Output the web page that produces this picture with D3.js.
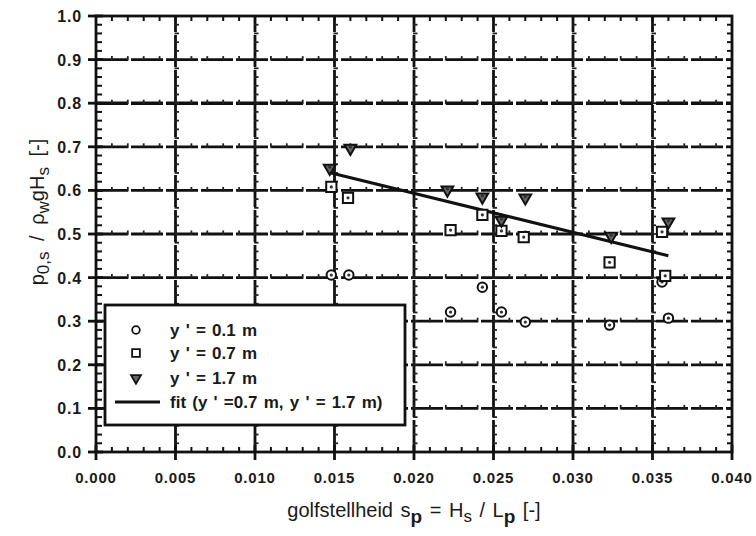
<!DOCTYPE html>
<html>
<head>
	<meta charset="utf-8">
	<title>Golfstellheid</title>
	<script src="https://cdnjs.cloudflare.com/ajax/libs/d3/7.8.5/d3.min.js"></script>
	<style type="text/css">
		body { margin: 0; background: #fff; }
		text { font-family: "Liberation Sans", Arial, sans-serif; fill: #1a1a1a; }
	</style>
</head>
<body>
	<script type="text/javascript">

		// y' = 0.1 m
		let circleX = [0.0148, 0.0159, 0.0223, 0.0243, 0.0255, 0.0270, 0.0323, 0.0356, 0.0360];
		let circleY = [0.406, 0.406, 0.321, 0.378, 0.321, 0.298, 0.291, 0.390, 0.307];
		// y' = 0.7 m
		let squareX = [0.0148, 0.01585, 0.0223, 0.0243, 0.0255, 0.0269, 0.0323, 0.0356, 0.0358];
		let squareY = [0.608, 0.583, 0.509, 0.544, 0.507, 0.493, 0.435, 0.505, 0.404];
		// y' = 1.7 m
		let triX = [0.0147, 0.0160, 0.0221, 0.0243, 0.0255, 0.0270, 0.0324, 0.0360];
		let triY = [0.651, 0.697, 0.601, 0.585, 0.532, 0.583, 0.495, 0.528];
		// fit line
		let fitX = [0.0148, 0.0360];
		let fitY = [0.640, 0.450];

		let xTicks = [0, 0.005, 0.010, 0.015, 0.020, 0.025, 0.030, 0.035, 0.040];
		let yTicks = [0, 0.1, 0.2, 0.3, 0.4, 0.5, 0.6, 0.7, 0.8, 0.9, 1.0];
		let legendLabels = ["y ' = 0.1 m", "y ' = 0.7 m", "y ' = 1.7 m", "fit (y ' =0.7 m, y ' = 1.7 m)"];

		const W = 756, H = 536;
		const m = {left: 96, right: 24, top: 16, bottom: 84};

		let svg = d3.select('body').append('svg')
			.attr('width', W)
			.attr('height', H);

		let x = d3.scaleLinear().domain([0, 0.04]).range([m.left, W - m.right]);
		let y = d3.scaleLinear().domain([0, 1]).range([H - m.bottom, m.top]);

		let minorX = d3.range(0, 0.0405, 0.001);
		let minorY = d3.range(0, 1.001, 0.02);

		// grid lines (dashed, bold)
		let grid = svg.append('g');
		grid.selectAll('.hg').data(yTicks.slice(1, -1)).enter().append('line')
			.attr('x1', x(0)).attr('x2', x(0.04))
			.attr('y1', d => y(d)).attr('y2', d => y(d))
			.attr('stroke', '#111')
			.attr('stroke-width', d => Math.abs(d - 0.8) < 1e-6 ? 3.4 : 2.8)
			.attr('stroke-dasharray', '32,3');
		grid.selectAll('.vg').data(xTicks.slice(1, -1)).enter().append('line')
			.attr('y1', y(0)).attr('y2', y(1))
			.attr('x1', d => x(d)).attr('x2', d => x(d))
			.attr('stroke', '#111')
			.attr('stroke-width', 2.8)
			.attr('stroke-dasharray', '32,3');

		// small ticks on grid lines
		yTicks.slice(1, -1).forEach(v => {
			grid.selectAll(null).data(minorX).enter().append('line')
				.attr('x1', d => x(d)).attr('x2', d => x(d))
				.attr('y1', y(v) - 3.5).attr('y2', y(v) + 1)
				.attr('stroke', '#222').attr('stroke-width', 1.8);
		});
		xTicks.slice(1, -1).forEach(v => {
			grid.selectAll(null).data(minorY).enter().append('line')
				.attr('y1', d => y(d)).attr('y2', d => y(d))
				.attr('x1', x(v) - 1).attr('x2', x(v) + 3.5)
				.attr('stroke', '#222').attr('stroke-width', 1.8);
		});

		// frame
		svg.append('rect')
			.attr('x', x(0)).attr('y', y(1))
			.attr('width', x(0.04) - x(0)).attr('height', y(0) - y(1))
			.attr('fill', 'none').attr('stroke', '#111').attr('stroke-width', 2.8);

		// axes ticks
		let ax = svg.append('g').attr('stroke', '#111');
		ax.selectAll('.mxb').data(minorX).enter().append('line')
			.attr('x1', d => x(d)).attr('x2', d => x(d))
			.attr('y1', y(0)).attr('y2', y(0) - 5).attr('stroke-width', 2);
		ax.selectAll('.mxt').data(minorX).enter().append('line')
			.attr('x1', d => x(d)).attr('x2', d => x(d))
			.attr('y1', y(1)).attr('y2', y(1) + 5).attr('stroke-width', 2);
		ax.selectAll('.Mx').data(xTicks).enter().append('line')
			.attr('x1', d => x(d)).attr('x2', d => x(d))
			.attr('y1', y(0) - 7).attr('y2', y(0) + 8).attr('stroke-width', 2.8);
		ax.selectAll('.myl').data(minorY).enter().append('line')
			.attr('y1', d => y(d)).attr('y2', d => y(d))
			.attr('x1', x(0)).attr('x2', x(0) + 6).attr('stroke-width', 2);
		ax.selectAll('.myr').data(minorY).enter().append('line')
			.attr('y1', d => y(d)).attr('y2', d => y(d))
			.attr('x1', x(0.04)).attr('x2', x(0.04) - 5).attr('stroke-width', 2);
		ax.selectAll('.My').data(yTicks).enter().append('line')
			.attr('y1', d => y(d)).attr('y2', d => y(d))
			.attr('x1', x(0) - 8).attr('x2', x(0) + 7).attr('stroke-width', 2.8);

		// tick labels
		svg.selectAll('.xl').data(xTicks).enter().append('text')
			.attr('x', d => x(d)).attr('y', y(0) + 31)
			.attr('text-anchor', 'middle')
			.attr('font-size', 15).attr('font-weight', 'bold')
			.attr('letter-spacing', 0.8)
			.text(d => d3.format('.3f')(d));
		svg.selectAll('.yl').data(yTicks).enter().append('text')
			.attr('x', x(0) - 14).attr('y', d => y(d) + 6)
			.attr('text-anchor', 'end')
			.attr('font-size', 16).attr('font-weight', 'bold')
			.attr('letter-spacing', 0.8)
			.text(d => d3.format('.1f')(d));

		// axis titles
		let xt = svg.append('text')
			.attr('x', 414).attr('y', 517)
			.attr('text-anchor', 'middle')
			.attr('font-size', 20)
			.attr('word-spacing', 2);
		xt.append('tspan').text('golfstellheid s');
		xt.append('tspan').attr('baseline-shift', '-30%').attr('font-size', 19).attr('font-weight', 'bold').text('p');
		xt.append('tspan').text(' = H');
		xt.append('tspan').attr('baseline-shift', '-30%').attr('font-size', 17).text('s');
		xt.append('tspan').text(' / L');
		xt.append('tspan').attr('baseline-shift', '-30%').attr('font-size', 19).attr('font-weight', 'bold').text('p');
		xt.append('tspan').text('  [-]');

		let yt = svg.append('text')
			.attr('transform', 'translate(44,' + 212 + ') rotate(-90)')
			.attr('text-anchor', 'middle')
			.attr('font-size', 20)
			.attr('word-spacing', 5);
		yt.append('tspan').text('p');
		yt.append('tspan').attr('baseline-shift', '-30%').attr('font-size', 17).text('0,s');
		yt.append('tspan').text(' / ρ');
		yt.append('tspan').attr('baseline-shift', '-30%').attr('font-size', 17).text('w');
		yt.append('tspan').text('gH');
		yt.append('tspan').attr('baseline-shift', '-30%').attr('font-size', 17).text('s');
		yt.append('tspan').text('  [-]');

		// fit line
		let fitData = fitX.map((d, i) => [d, fitY[i]]);
		svg.append('path')
			.datum(fitData)
			.attr('d', d3.line().x(d => x(d[0])).y(d => y(d[1])))
			.attr('stroke', '#111').attr('stroke-width', 3).attr('fill', 'none');

		// markers
		let circleSym = d3.symbol().type(d3.symbolCircle).size(70);
		let squareSym = d3.symbol().type(d3.symbolSquare).size(105);
		let triSym = d3.symbol().type(d3.symbolTriangle).size(60);

		function drawSeries(xs, ys, sym, rot, fill) {
			let pts = xs.map((d, i) => ({x: d, y: ys[i]}));
			let g = svg.append('g');
			g.selectAll('path').data(pts).enter().append('path')
				.attr('d', sym)
				.attr('transform', d => 'translate(' + x(d.x) + ',' + y(d.y) + ') rotate(' + rot + ')')
				.attr('fill', fill).attr('stroke', '#111').attr('stroke-width', 2);
			g.selectAll('circle').data(pts).enter().append('circle')
				.attr('cx', d => x(d.x)).attr('cy', d => y(d.y) + (rot ? -1 : 0))
				.attr('r', 1.6).attr('fill', '#333');
		}
		drawSeries(circleX, circleY, circleSym, 0, '#fff');
		drawSeries(squareX, squareY, squareSym, 0, '#fff');
		drawSeries(triX, triY, triSym, 180, '#666');

		// legend
		let lg = svg.append('g');
		lg.append('rect')
			.attr('x', 105).attr('y', 305).attr('width', 300).attr('height', 120)
			.attr('fill', '#fff').attr('stroke', '#111').attr('stroke-width', 2.8);
		let rows = [330, 353, 378, 402];
		let legendSyms = [
			[d3.symbol().type(d3.symbolCircle).size(45), 0, '#fff'],
			[d3.symbol().type(d3.symbolSquare).size(60), 0, '#fff'],
			[d3.symbol().type(d3.symbolTriangle).size(42), 180, '#666']
		];
		legendSyms.forEach((s, i) => {
			lg.append('path')
				.attr('d', s[0])
				.attr('transform', 'translate(136,' + rows[i] + ') rotate(' + s[1] + ')')
				.attr('fill', s[2]).attr('stroke', '#111').attr('stroke-width', 1.8);
		});
		lg.append('line')
			.attr('x1', 115).attr('x2', 160).attr('y1', rows[3]).attr('y2', rows[3])
			.attr('stroke', '#111').attr('stroke-width', 3);
		lg.selectAll('.lt').data(legendLabels).enter().append('text')
			.attr('x', 170).attr('y', (d, i) => rows[i] + 6)
			.attr('font-size', 17).attr('font-weight', 'bold')
			.attr('word-spacing', 1.5)
			.text(d => d);
	</script>
</body>
</html>
